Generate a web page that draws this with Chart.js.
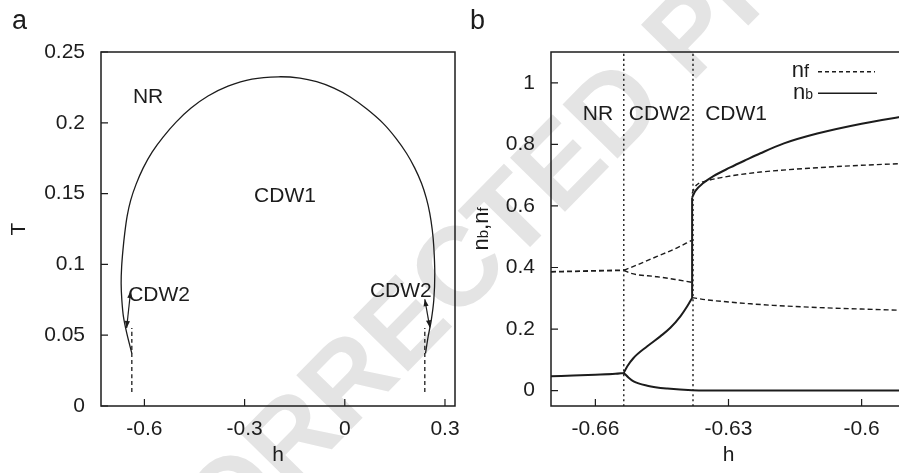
<!DOCTYPE html>
<html><head><meta charset="utf-8">
<script src="https://cdn.jsdelivr.net/npm/chart.js@4.4.1/dist/chart.umd.min.js"></script>
<style>
html,body{margin:0;padding:0;background:#fff;overflow:hidden;}
body{width:899px;height:473px;position:relative;}
canvas{position:absolute;top:0;}
</style></head><body>
<canvas id="wm" width="899" height="473" style="left:0"></canvas>
<canvas id="ca" width="465" height="473" style="left:0"></canvas>
<canvas id="cb" width="450" height="473" style="left:460px"></canvas>
<script>
// ---------------- data: panel a (phase diagram) ----------------
const xTicksA = [-0.6, -0.3, 0, 0.3];
const yTicksA = [0, 0.05, 0.1, 0.15, 0.2, 0.25];
const domeH = [-0.6377,-0.6527,-0.6628,-0.6676,-0.6697,-0.6682,-0.6643,-0.6589,-0.6517,-0.6410,-0.6248,-0.6039,-0.5770,-0.5441,-0.5052,-0.4603,-0.4095,-0.3497,-0.2779,-0.1992,-0.1342,-0.0843,-0.0326,0.0153,0.0661,0.1149,0.1528,0.1848,0.2096,0.2297,0.2441,0.2545,0.2620,0.2665,0.2695,0.2665,0.2590,0.2495,0.2417];
const domeT = [0.0372,0.0513,0.0631,0.0749,0.0866,0.0983,0.1101,0.1221,0.1341,0.1454,0.1567,0.1680,0.1793,0.1899,0.2005,0.2104,0.2189,0.2259,0.2309,0.2325,0.2316,0.2290,0.2245,0.2184,0.2097,0.1996,0.1892,0.1785,0.1680,0.1573,0.1468,0.1361,0.1243,0.1125,0.0937,0.0749,0.0607,0.0489,0.0372];
const guideLeftH = [-0.6377, -0.6377];
const guideRightH = [0.2396, 0.2396];
const guideT = [0.0099, 0.055];

// ---------------- data: panel b (densities) ----------------
const xTicksB = [-0.66, -0.63, -0.6];
const yTicksB = [0, 0.2, 0.4, 0.6, 0.8, 1];
const phaseBoundH = [-0.6536, -0.638];
const nbNR_h = [-0.67,-0.665,-0.66,-0.6555,-0.6536];
const nbNR   = [0.0465,0.049,0.0515,0.0545,0.0575];
const nbC2_h = [-0.6536,-0.6528,-0.6514,-0.6483,-0.6453,-0.6431,-0.6408,-0.6393,-0.6382];
const nbC2   = [0.0575,0.079,0.106,0.144,0.177,0.204,0.242,0.274,0.301];
const nbJumpH = -0.6382;
const nbJump  = [0.301, 0.627];
const nbC1_h = [-0.6382,-0.6375,-0.6356,-0.6334,-0.6296,-0.6258,-0.6228,-0.6175,-0.61,-0.60,-0.59];
const nbC1   = [0.627,0.648,0.675,0.697,0.725,0.751,0.771,0.803,0.835,0.867,0.892];
const nbLo_h = [-0.6536,-0.6525,-0.6514,-0.6483,-0.6438,-0.6382,-0.63,-0.59];
const nbLo   = [0.0575,0.042,0.030,0.016,0.0065,0.001,0,0];
const nfNR_h = [-0.67,-0.6536];
const nfNR   = [0.386,0.391];
const nfC2_h = [-0.6536,-0.652,-0.6461,-0.642,-0.6383];
const nfC2up = [0.391,0.400,0.436,0.461,0.488];
const nfC2lo = [0.391,0.381,0.370,0.361,0.352];
const nfC1up_h = [-0.6382,-0.6378,-0.6372,-0.635,-0.6296,-0.6228,-0.61,-0.60,-0.59];
const nfC1up   = [0.640,0.655,0.668,0.681,0.697,0.710,0.724,0.732,0.738];
const nfC1lo_h = [-0.6382,-0.635,-0.63,-0.625,-0.62,-0.61,-0.60,-0.59];
const nfC1lo   = [0.302,0.295,0.288,0.282,0.277,0.270,0.265,0.2605];

// ---------------- annotations (data coordinates) ----------------
const labelsA = [
  {text:'NR', x:-0.589, y:0.2140},
  {text:'CDW1', x:-0.179, y:0.1441},
  {text:'CDW2', x:-0.556, y:0.0742},
  {text:'CDW2', x:0.1678, y:0.0770}
];
const arrowsA = [
  {x1:-0.6532, y1:0.0551, x2:-0.6413, y2:0.0812},
  {x1:0.2545, y1:0.0556, x2:0.2396, y2:0.0754}
];
const labelsB = [
  {text:'NR', x:-0.6594, y:0.878},
  {text:'CDW2', x:-0.6455, y:0.878},
  {text:'CDW1', x:-0.6283, y:0.878}
];

// ---------------- styling ----------------
const FONT = '"Liberation Sans", Arial, Helvetica, sans-serif';
const INK = '#1c1c1c';
const pts = (xs, ys) => xs.map((x, i) => ({x, y: ys[i]}));

// watermark
(function(){
  const w = document.getElementById('wm').getContext('2d');
  w.save();
  w.translate(492, 242);
  w.rotate(-45.5 * Math.PI / 180);
  w.font = 'bold 112px ' + FONT;
  w.fillStyle = '#e4e4e4';
  w.textAlign = 'center';
  w.textBaseline = 'middle';
  w.fillText('UNCORRECTED PROOF', 0, 0);
  w.restore();
})();

function drawFrame(chart, tickLen) {
  const {ctx, chartArea: a, scales: {x, y}} = chart;
  ctx.save();
  ctx.strokeStyle = INK;
  ctx.lineWidth = 1.5;
  ctx.strokeRect(a.left, a.top, a.right - a.left, a.bottom - a.top);
  ctx.beginPath();
  x.ticks.forEach(t => { const p = x.getPixelForValue(t.value); ctx.moveTo(p, a.bottom); ctx.lineTo(p, a.bottom - tickLen); });
  y.ticks.forEach(t => { const p = y.getPixelForValue(t.value); ctx.moveTo(a.left, p); ctx.lineTo(a.left + tickLen, p); });
  ctx.lineWidth = 1.2;
  ctx.stroke();
  ctx.restore();
}

function drawMixed(ctx, parts, x, y, align) {
  const widths = parts.map(([t, s]) => { ctx.font = s + 'px ' + FONT; return ctx.measureText(t).width; });
  const total = widths.reduce((p, c) => p + c, 0);
  let cx = align === 'center' ? x - total / 2 : align === 'right' ? x - total : x;
  ctx.textAlign = 'left';
  ctx.textBaseline = 'alphabetic';
  parts.forEach(([t, s], i) => { ctx.font = s + 'px ' + FONT; ctx.fillText(t, cx, y); cx += widths[i]; });
}

function dblArrow(ctx, x1, y1, x2, y2) {
  const ang = Math.atan2(y2 - y1, x2 - x1), L = 7, W = 2.6;
  ctx.beginPath(); ctx.moveTo(x1, y1); ctx.lineTo(x2, y2); ctx.stroke();
  [[x1, y1, ang + Math.PI], [x2, y2, ang]].forEach(([px, py, a]) => {
    ctx.beginPath();
    ctx.moveTo(px, py);
    ctx.lineTo(px - L * Math.cos(a) + W * Math.sin(a), py - L * Math.sin(a) - W * Math.cos(a));
    ctx.lineTo(px - L * Math.cos(a) - W * Math.sin(a), py - L * Math.sin(a) + W * Math.cos(a));
    ctx.closePath(); ctx.fill();
  });
}

function axisOpts(min, max, tickList, fitProp, fitVal, pad, title) {
  const o = {
    type: 'linear', min, max,
    grid: {display: false, drawTicks: false},
    border: {display: false},
    afterBuildTicks: s => { s.ticks = tickList.map(v => ({value: v})); },
    afterFit: s => { s[fitProp] = fitVal; s.paddingLeft = 0; s.paddingRight = 0; s.paddingTop = 0; s.paddingBottom = 0; },
    ticks: {color: INK, font: {size: 21, family: FONT}, padding: pad, maxRotation: 0, autoSkip: false, callback: v => String(v)}
  };
  if (title) o.title = title;
  return o;
}

const decorA = {
  id: 'decorA',
  afterDraw(chart) {
    const {ctx, scales: {x, y}} = chart;
    drawFrame(chart, 7);
    ctx.save();
    ctx.fillStyle = INK; ctx.strokeStyle = INK;
    ctx.font = '21px ' + FONT; ctx.textAlign = 'center'; ctx.textBaseline = 'alphabetic';
    labelsA.forEach(l => ctx.fillText(l.text, x.getPixelForValue(l.x), y.getPixelForValue(l.y)));
    ctx.lineWidth = 1.2;
    arrowsA.forEach(a => dblArrow(ctx, x.getPixelForValue(a.x1), y.getPixelForValue(a.y1), x.getPixelForValue(a.x2), y.getPixelForValue(a.y2)));
    ctx.font = '27px ' + FONT; ctx.textAlign = 'left';
    ctx.fillText('a', 12, 29);
    ctx.restore();
  }
};

const decorB = {
  id: 'decorB',
  afterDraw(chart) {
    const {ctx, chartArea: a, scales: {x, y}} = chart;
    drawFrame(chart, 7);
    ctx.save();
    ctx.fillStyle = INK; ctx.strokeStyle = INK;
    ctx.font = '21px ' + FONT; ctx.textAlign = 'center'; ctx.textBaseline = 'alphabetic';
    labelsB.forEach(l => ctx.fillText(l.text, x.getPixelForValue(l.x), y.getPixelForValue(l.y)));
    // legend
    const lineEnd = a.right - 31, lineStart = lineEnd - 57;
    ctx.lineWidth = 1.5;
    ctx.setLineDash([4, 3]);
    ctx.beginPath(); ctx.moveTo(lineStart, a.top + 19.7); ctx.lineTo(lineEnd, a.top + 19.7); ctx.stroke();
    ctx.setLineDash([]);
    ctx.beginPath(); ctx.moveTo(lineStart, a.top + 41.3); ctx.lineTo(lineEnd + 2, a.top + 41.3); ctx.stroke();
    drawMixed(ctx, [['n', 22], ['f', 18]], lineStart - 9, a.top + 24.7, 'right');
    drawMixed(ctx, [['n', 22], ['b', 14]], lineStart - 5, a.top + 47.3, 'right');
    // y title
    ctx.save();
    ctx.translate(28, (a.top + a.bottom) / 2);
    ctx.rotate(-Math.PI / 2);
    drawMixed(ctx, [['n', 22], ['b', 15], [',', 22], ['n', 22], ['f', 15]], 0, 0, 'center');
    ctx.restore();
    ctx.font = '27px ' + FONT; ctx.textAlign = 'left';
    ctx.fillText('b', 10, 29);
    ctx.restore();
  }
};

const solid = (data, w) => ({data, borderColor: INK, borderWidth: w, pointRadius: 0, showLine: true, fill: false, cubicInterpolationMode: 'monotone'});
const dashed = (data, w, dash) => ({data, borderColor: INK, borderWidth: w, borderDash: dash, pointRadius: 0, showLine: true, fill: false, cubicInterpolationMode: 'monotone'});

new Chart(document.getElementById('ca'), {
  type: 'scatter',
  data: {datasets: [
    dashed(pts(guideLeftH, guideT), 1.3, [4, 3]),
    dashed(pts(guideRightH, guideT), 1.3, [4, 3]),
    Object.assign(solid(pts(domeH, domeT), 1.3), {cubicInterpolationMode: 'default', tension: 0.3})
  ]},
  options: {
    responsive: false, animation: false, events: [],
    layout: {padding: {top: 52, right: 10, left: 0, bottom: 0}},
    plugins: {legend: {display: false}, tooltip: {enabled: false}},
    scales: {
      x: axisOpts(-0.73, 0.33, xTicksA, 'height', 67, 11,
        {display: true, text: 'h', color: INK, font: {size: 21, family: FONT}, padding: {top: 0, bottom: 5}}),
      y: axisOpts(0, 0.25, yTicksA, 'width', 101, 16,
        {display: true, text: 'T', color: INK, font: {size: 21, family: FONT}, padding: {top: 7, bottom: 0}})
    }
  },
  plugins: [decorA]
});

new Chart(document.getElementById('cb'), {
  type: 'scatter',
  data: {datasets: [
    dashed(pts([phaseBoundH[0], phaseBoundH[0]], [-0.05, 1.1]), 1.4, [2, 3]),
    dashed(pts([phaseBoundH[1], phaseBoundH[1]], [-0.05, 1.1]), 1.4, [2, 3]),
    dashed(pts(nfNR_h, nfNR), 1.8, [5, 3]),
    dashed(pts(nfC2_h, nfC2up), 1.4, [5, 3]),
    dashed(pts(nfC2_h, nfC2lo), 1.4, [5, 3]),
    dashed(pts(nfC1up_h, nfC1up), 1.4, [5, 3]),
    dashed(pts(nfC1lo_h, nfC1lo), 1.4, [5, 3]),
    solid(pts(nbNR_h, nbNR), 2),
    solid(pts(nbC2_h, nbC2), 2),
    solid(pts([nbJumpH, nbJumpH], nbJump), 2),
    solid(pts(nbC1_h, nbC1), 2),
    solid(pts(nbLo_h, nbLo), 2)
  ]},
  options: {
    responsive: false, animation: false, events: [],
    layout: {padding: {top: 52, right: 4, left: 0, bottom: 0}},
    plugins: {legend: {display: false}, tooltip: {enabled: false}},
    scales: {
      x: axisOpts(-0.67, -0.59, xTicksB, 'height', 67, 11,
        {display: true, text: 'h', color: INK, font: {size: 21, family: FONT}, padding: {top: 0, bottom: 5}}),
      y: axisOpts(-0.05, 1.1, yTicksB, 'width', 91, 16, null)
    }
  },
  plugins: [decorB]
});
</script></body></html>
